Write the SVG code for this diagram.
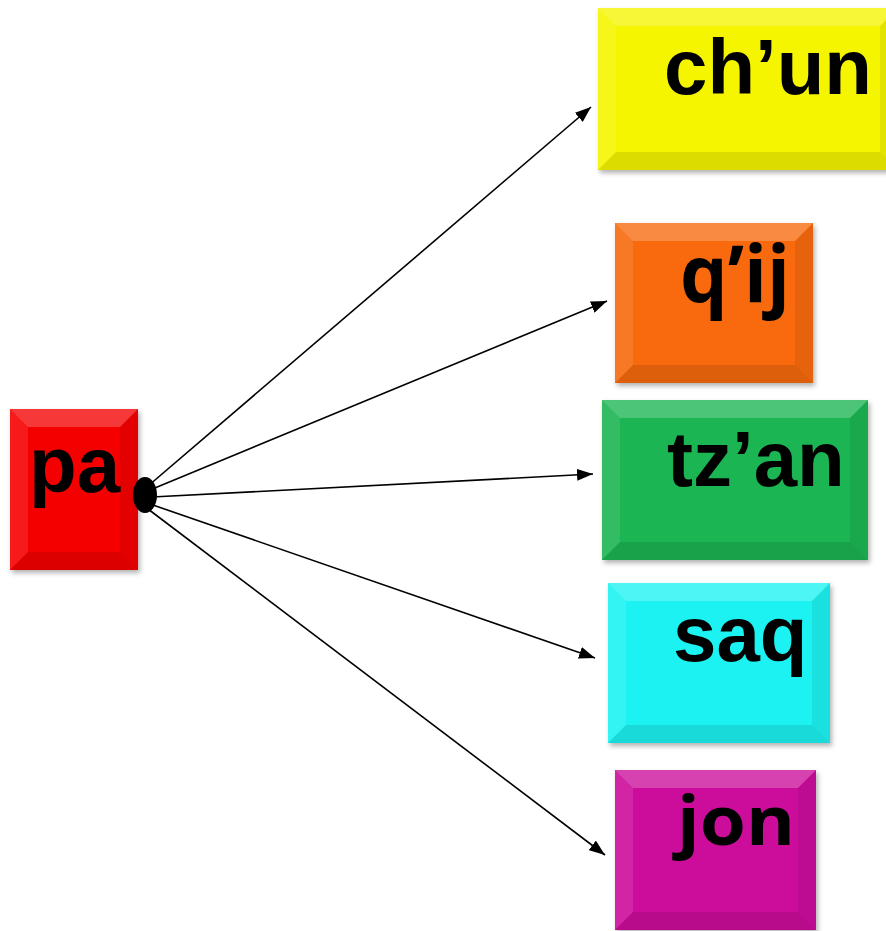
<svg xmlns="http://www.w3.org/2000/svg" width="886" height="931" viewBox="0 0 886 931">
<defs>
<filter id="sh" x="-10%" y="-10%" width="125%" height="125%">
<feDropShadow dx="2" dy="3" stdDeviation="2.5" flood-color="#000" flood-opacity="0.3"/>
</filter>
<marker id="ah" viewBox="0 0 16 12" refX="16" refY="6" markerWidth="16" markerHeight="12" markerUnits="userSpaceOnUse" orient="auto">
<path d="M0,0 L16,6 L0,12 Z" fill="#000"/>
</marker>
</defs>
<style>
.bt{fill:#fff;fill-opacity:0.22}
.bl{fill:#fff;fill-opacity:0.1}
.br{fill:#000;fill-opacity:0.07}
.bb{fill:#000;fill-opacity:0.1}
.ar{font-family:"Liberation Sans",Arial,sans-serif;font-weight:bold;font-size:78px;fill:#000}
.ca{font-family:"Open Sans","Noto Sans",sans-serif;font-weight:bold;font-size:78px;fill:#000}
.cn{stroke:#000;stroke-width:1.6;fill:none;marker-end:url(#ah)}
</style>
<g id="connectors">
<line class="cn" x1="148" y1="486" x2="591" y2="107"/>
<line class="cn" x1="150" y1="490" x2="607" y2="301"/>
<line class="cn" x1="152" y1="497" x2="593" y2="474"/>
<line class="cn" x1="150" y1="504" x2="595" y2="658"/>
<line class="cn" x1="148" y1="509" x2="605" y2="855"/>
</g>
<g id="node-pa" transform="translate(10,409)">
<rect width="128" height="161" fill="#f50000" filter="url(#sh)"/>
<polygon class="bt" points="0,0 128,0 110,18 18,18"/>
<polygon class="bl" points="0,0 18,18 18,143 0,161"/>
<polygon class="br" points="128,0 128,161 110,143 110,18"/>
<polygon class="bb" points="0,161 18,143 110,143 128,161"/>
<text class="ar" x="19" y="83">pa</text>
</g>
<g id="node-chun" transform="translate(598,8)">
<rect width="300" height="162" fill="#f5f500" filter="url(#sh)"/>
<polygon class="bt" points="0,0 300,0 282,18 18,18"/>
<polygon class="bl" points="0,0 18,18 18,144 0,162"/>
<polygon class="br" points="300,0 300,162 282,144 282,18"/>
<polygon class="bb" points="0,162 18,144 282,144 300,162"/>
<text class="ar" x="66" y="86">ch’un</text>
</g>
<g id="node-qij" transform="translate(615,223)">
<rect width="198" height="160" fill="#f86a0a" filter="url(#sh)"/>
<polygon class="bt" points="0,0 198,0 180,18 18,18"/>
<polygon class="bl" points="0,0 18,18 18,142 0,160"/>
<polygon class="br" points="198,0 198,160 180,142 180,18"/>
<polygon class="bb" points="0,160 18,142 180,142 198,160"/>
<text class="ca" x="65" y="79" textLength="110" lengthAdjust="spacingAndGlyphs">q’ij</text>
</g>
<g id="node-tzan" transform="translate(602,400)">
<rect width="266" height="160" fill="#1cb552" filter="url(#sh)"/>
<polygon class="bt" points="0,0 266,0 248,18 18,18"/>
<polygon class="bl" points="0,0 18,18 18,142 0,160"/>
<polygon class="br" points="266,0 266,160 248,142 248,18"/>
<polygon class="bb" points="0,160 18,142 248,142 266,160"/>
<text class="ar" x="65" y="86">tz’an</text>
</g>
<g id="node-saq" transform="translate(608,583)">
<rect width="222" height="160" fill="#1ff2f2" filter="url(#sh)"/>
<polygon class="bt" points="0,0 222,0 204,18 18,18"/>
<polygon class="bl" points="0,0 18,18 18,142 0,160"/>
<polygon class="br" points="222,0 222,160 204,142 204,18"/>
<polygon class="bb" points="0,160 18,142 204,142 222,160"/>
<text class="ar" x="65" y="78">saq</text>
</g>
<g id="node-jon" transform="translate(615,770)">
<rect width="201" height="160" fill="#cc0a9c" filter="url(#sh)"/>
<polygon class="bt" points="0,0 201,0 183,18 18,18"/>
<polygon class="bl" points="0,0 18,18 18,142 0,160"/>
<polygon class="br" points="201,0 201,160 183,142 183,18"/>
<polygon class="bb" points="0,160 18,142 183,142 201,160"/>
<text class="ca" x="62" y="75" textLength="118" lengthAdjust="spacingAndGlyphs" style="font-size:68px">jon</text>
</g>
<ellipse id="junction" cx="145" cy="495" rx="12" ry="18" fill="#000"/>
</svg>
